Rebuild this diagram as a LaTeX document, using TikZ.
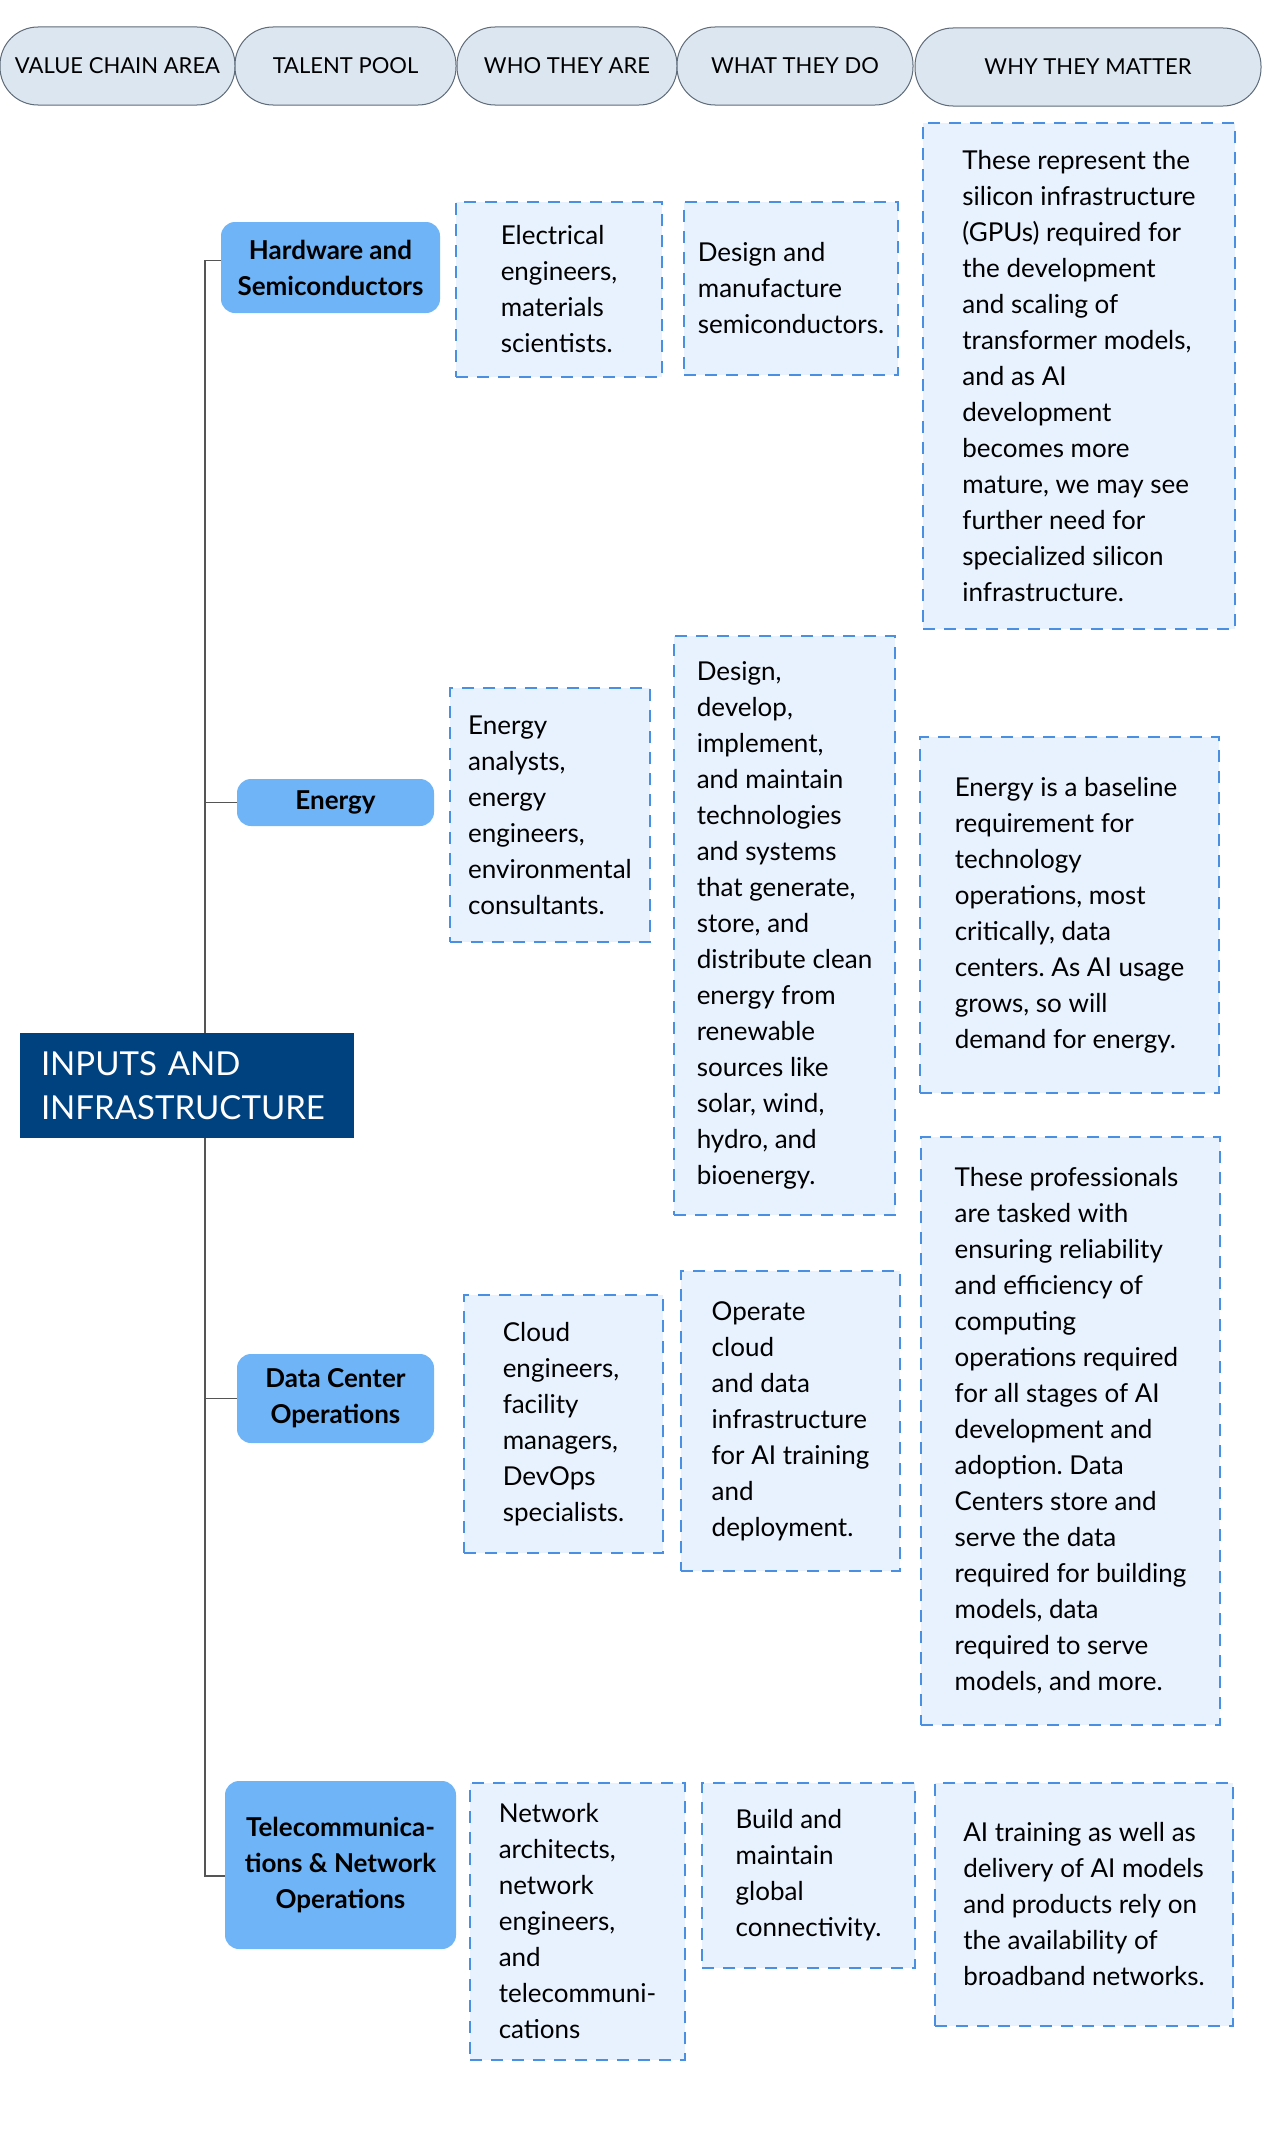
\documentclass[tikz,border=0pt]{standalone}
\usepackage{fontspec}
\setmainfont{Lato}
\usepackage{tikz}
\usetikzlibrary{positioning}
\frenchspacing

\definecolor{pillfill}{HTML}{DCE6F1}
\definecolor{pillline}{HTML}{5F6B78}
\definecolor{branchblue}{HTML}{6EB4F7}
\definecolor{cellfill}{HTML}{E8F2FE}
\definecolor{cellline}{HTML}{4A90E2}
\definecolor{hubblue}{HTML}{00417F}
\definecolor{trunkgray}{HTML}{555555}

\begin{document}
\begin{tikzpicture}
    [
    x=1pt, y=-1pt,
    pill/.style={draw=pillline, fill=pillfill, line width=1pt, rounded corners=38pt,
                 minimum height=78pt, inner sep=0pt, font=\fontsize{22}{26}\selectfont},
    branch/.style={fill=branchblue, rounded corners=14pt, align=center, inner sep=0pt,
                   font=\fontsize{26}{36}\selectfont\bfseries},
    cell/.style={fill=cellfill, draw=cellline, line width=1.5pt, dash pattern=on 12pt off 9pt,
                 align=left, inner sep=0pt, font=\fontsize{26}{36}\selectfont},
    hub/.style={fill=hubblue, text=white, align=left, inner xsep=21pt,
                font=\fontsize{33}{44}\selectfont},
    link/.style={draw=trunkgray, line width=1.5pt},
    ]
    \useasboundingbox (0,0) rectangle (1264,2141);

    % column heads
    \node (vca)  at (117.5,66) [pill, minimum width=235pt] {VALUE CHAIN AREA};
    \node (pool) at (345.5,66) [pill, minimum width=221pt] {TALENT POOL};
    \node (who)  at (567,66)   [pill, minimum width=220pt] {WHO THEY ARE};
    \node (what) at (795,66)   [pill, minimum width=236pt] {WHAT THEY DO};
    \node (why)  at (1088,67)  [pill, minimum width=346pt] {WHY THEY MATTER};

    % value chain area and its talent pools
    \coordinate (spine) at (205,0);
    \node (hub) at (187,1085.5) [hub, minimum height=105pt, text width=292pt] {INPUTS AND\\INFRASTRUCTURE};
    \node (hw)  at (330.5,267.5) [branch, minimum width=219pt, minimum height=91pt] {Hardware and\\Semiconductors};
    \node (en)  at (335.5,802.5) [branch, minimum width=197pt, minimum height=47pt] {Energy};
    \node (dc)  at (335.5,1398.5) [branch, minimum width=197pt, minimum height=89pt] {Data Center\\Operations};
    \node (tel) at (340.5,1865) [branch, minimum width=231pt, minimum height=168pt] {Telecommunica-\\tions \& Network\\Operations};

    \draw [link] (hub.north -| spine) |- ([yshift=7pt]hw.west);
    \draw [link] (hub.north -| spine) |- (en.west);
    \draw [link] (hub.south -| spine) |- (dc.west);
    \draw [link] (hub.south -| spine) |- ([yshift=-11pt]tel.west);

    % hardware
    \node (hwwho) at (559,289.5) [cell, minimum width=206pt, minimum height=175pt]
      {Electrical\\engineers,\\materials\\scientists.};
    \node (hwwhat) at (791,288.5) [cell, minimum width=214pt, minimum height=173pt]
      {Design and\\manufacture\\semiconductors.};
    \node (hwwhy) at (1079,376) [cell, minimum width=312pt, minimum height=506pt]
      {These represent the\\silicon infrastructure\\(GPUs) required for\\the development\\and scaling of\\transformer models,\\and as AI\\development\\becomes more\\mature, we may see\\further need for\\specialized silicon\\infrastructure.};

    % energy
    \node (enwho) at (550,815) [cell, minimum width=200pt, minimum height=254pt]
      {Energy\\analysts,\\energy\\engineers,\\environmental\\consultants.};
    \node (enwhat) at (784.5,925.5) [cell, minimum width=221pt, minimum height=579pt]
      {Design,\\develop,\\implement,\\and maintain\\technologies\\and systems\\that generate,\\store, and\\distribute clean\\energy from\\renewable\\sources like\\solar, wind,\\hydro, and\\bioenergy.};
    \node (enwhy) at (1069.5,915) [cell, minimum width=299pt, minimum height=356pt]
      {Energy is a baseline\\requirement for\\technology\\operations, most\\critically, data\\centers. As AI usage\\grows, so will\\demand for energy.};

    % data center
    \node (dcwho) at (563.5,1424) [cell, minimum width=199pt, minimum height=258pt]
      {Cloud\\engineers,\\facility\\managers,\\DevOps\\specialists.};
    \node (dcwhat) at (790.5,1421) [cell, minimum width=219pt, minimum height=300pt]
      {Operate\\cloud\\and data\\infrastructure\\for AI training\\and\\deployment.};
    \node (dcwhy) at (1070.5,1431) [cell, minimum width=299pt, minimum height=588pt]
      {These professionals\\are tasked with\\ensuring reliability\\and efficiency of\\computing\\operations required\\for all stages of AI\\development and\\adoption. Data\\Centers store and\\serve the data\\required for building\\models, data\\required to serve\\models, and more.};

    % telecom
    \node (telwho) at (577.5,1921.5) [cell, minimum width=215pt, minimum height=277pt]
      {Network\\architects,\\network\\engineers,\\and\\telecommuni-\\cations};
    \node (telwhat) at (808.5,1875.5) [cell, minimum width=213pt, minimum height=185pt]
      {Build and\\maintain\\global\\connectivity.};
    \node (telwhy) at (1084,1904.5) [cell, minimum width=298pt, minimum height=243pt]
      {AI training as well as\\delivery of AI models\\and products rely on\\the availability of\\broadband networks.};
\end{tikzpicture}
\end{document}
